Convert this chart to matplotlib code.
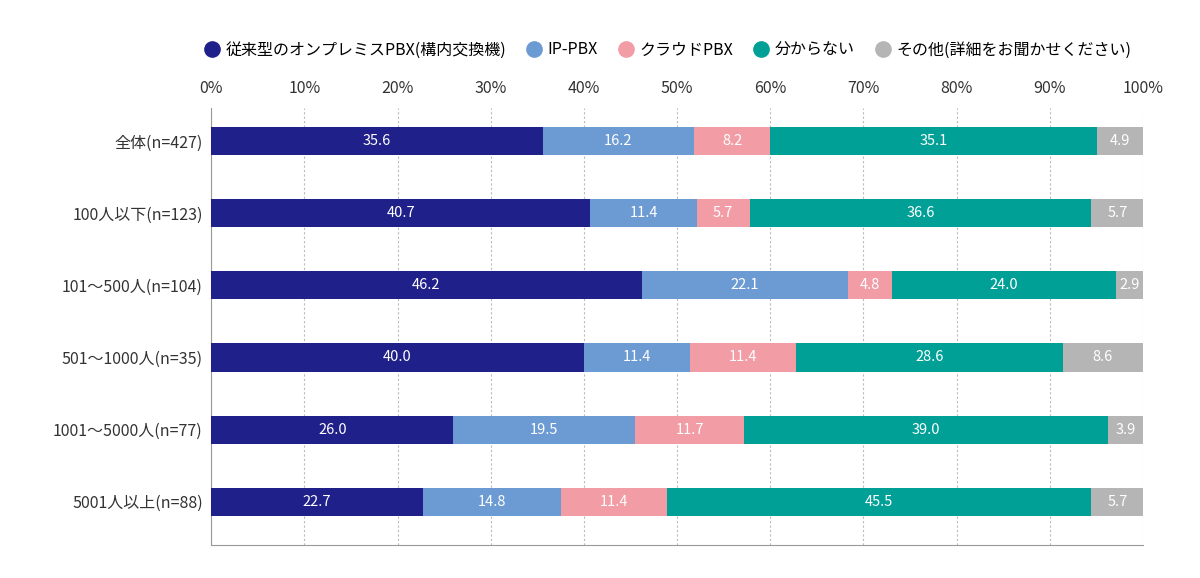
import matplotlib
matplotlib.use("Agg")
import matplotlib.pyplot as plt
import matplotlib.lines as mlines

plt.rcParams['font.family'] = ['Noto Sans CJK JP', 'DejaVu Sans']

categories = ["全体(n=427)", "100人以下(n=123)", "101～500人(n=104)",
              "501～1000人(n=35)", "1001～5000人(n=77)", "5001人以上(n=88)"]
series_names = ["従来型のオンプレミスPBX(構内交換機)", "IP-PBX", "クラウドPBX",
                "分からない", "その他(詳細をお聞かせください)"]
onprem = [35.6, 40.7, 46.2, 40.0, 26.0, 22.7]
ippbx = [16.2, 11.4, 22.1, 11.4, 19.5, 14.8]
cloud = [8.2, 5.7, 4.8, 11.4, 11.7, 11.4]
unknown = [35.1, 36.6, 24.0, 28.6, 39.0, 45.5]
other = [4.9, 5.7, 2.9, 8.6, 3.9, 5.7]
series = [onprem, ippbx, cloud, unknown, other]
colors = ["#20208a", "#6c9bd3", "#f29ca6", "#00a096", "#b5b5b5"]

fig = plt.figure(figsize=(12, 5.78), dpi=100)
ax = fig.add_axes([0.176, 0.057, 0.7765, 0.756])

y = list(range(len(categories)))
left = [0.0] * len(categories)
for name, vals, c in zip(series_names, series, colors):
    ax.barh(y, vals, left=left, height=0.39, color=c, zorder=3)
    for yi, l, v in zip(y, left, vals):
        ax.text(l + v / 2, yi, f"{v:.1f}", ha="center", va="center",
                color="white", fontsize=10.5, zorder=4)
    left = [a + b for a, b in zip(left, vals)]

ax.set_xlim(0, 100)
ax.set_ylim(5.6, -0.457)
ax.set_xticks(range(0, 101, 10))
ax.set_xticklabels([f"{t}%" for t in range(0, 101, 10)], fontsize=11.5, color="#333333")
ax.xaxis.tick_top()
ax.tick_params(axis="x", length=0, pad=8)
ax.set_yticks(y)
ax.set_yticklabels(categories, fontsize=11.5, color="#333333")
ax.tick_params(axis="y", length=0, pad=6)
ax.grid(axis="x", linestyle=(0, (2, 2)), color="#bbbbbb", linewidth=0.8, zorder=0)
for s in ["top", "right"]:
    ax.spines[s].set_visible(False)
for s in ["left", "bottom"]:
    ax.spines[s].set_color("#999999")
    ax.spines[s].set_linewidth(0.8)

handles = [mlines.Line2D([], [], color=c, marker='o', linestyle='None',
                         markersize=11, label=n) for n, c in zip(series_names, colors)]
ax.legend(handles=handles, loc="center", bbox_to_anchor=(0.49, 1.133), ncol=5,
          frameon=False, fontsize=11.5, handlelength=0.9, columnspacing=1.3,
          handletextpad=0.4)

fig.savefig("out.png", dpi=100)
